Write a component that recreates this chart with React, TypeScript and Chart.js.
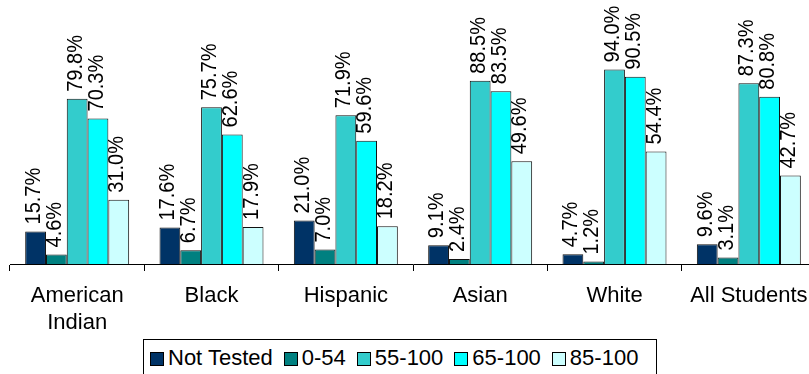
import React, { useEffect, useRef } from "react";
import { Chart, registerables } from "chart.js";

Chart.register(...registerables);

const categories: (string | string[])[] = [
  ["American", "Indian"],
  "Black",
  "Hispanic",
  "Asian",
  "White",
  "All Students",
];

const seriesNames = ["Not Tested", "0-54", "55-100", "65-100", "85-100"];
const seriesColors = ["#003366", "#008080", "#33CCCC", "#00FFFF", "#CCFFFF"];

const notTested = [15.7, 17.6, 21.0, 9.1, 4.7, 9.6];
const range0to54 = [4.6, 6.7, 7.0, 2.4, 1.2, 3.1];
const range55to100 = [79.8, 75.7, 71.9, 88.5, 94.0, 87.3];
const range65to100 = [70.3, 62.6, 59.6, 83.5, 90.5, 80.8];
const range85to100 = [31.0, 17.9, 18.2, 49.6, 54.4, 42.7];

const seriesValues = [notTested, range0to54, range55to100, range65to100, range85to100];

const FONT = "'Liberation Sans', Arial, sans-serif";

const labelPlugin = {
  id: "barLabels",
  afterDatasetsDraw(chart: any) {
    const ctx = chart.ctx;
    ctx.save();
    ctx.fillStyle = "#000";
    ctx.font = `22px ${FONT}`;
    ctx.textAlign = "left";
    ctx.textBaseline = "middle";
    chart.data.datasets.forEach((ds: any, di: number) => {
      const meta = chart.getDatasetMeta(di);
      meta.data.forEach((el: any, i: number) => {
        const v = ds.data[i];
        ctx.save();
        ctx.translate(el.x - 1.5, el.y - 7);
        ctx.rotate(-Math.PI / 2);
        ctx.scale(0.91, 1);
        ctx.fillText(v.toFixed(1) + "%", 0, 0);
        ctx.restore();
      });
    });
    ctx.restore();
  },
};

export default function App() {
  const canvasRef = useRef<HTMLCanvasElement | null>(null);

  useEffect(() => {
    if (!canvasRef.current) return;
    const chart = new Chart(canvasRef.current, {
      type: "bar",
      data: {
        labels: categories,
        datasets: seriesNames.map((name, i) => ({
          label: name,
          data: seriesValues[i],
          backgroundColor: seriesColors[i],
          borderColor: "#111",
          borderWidth: 1,
          categoryPercentage: 0.774,
          barPercentage: 1,
        })),
      },
      options: {
        responsive: false,
        animation: false,
        layout: { padding: { left: 10, right: 14, top: 57, bottom: 0 } },
        plugins: {
          legend: { display: false },
          tooltip: { enabled: false },
        },
        scales: {
          x: {
            offset: true,
            grid: {
              display: true,
              offset: true,
              drawOnChartArea: false,
              drawTicks: true,
              tickLength: 7,
              color: "#000",
            },
            border: { display: true, color: "#000", width: 1 },
            ticks: {
              color: "#000",
              font: { family: FONT, size: 22, lineHeight: 1.21 },
              padding: 12,
              maxRotation: 0,
              autoSkip: false,
            },
            afterFit: (scale: any) => {
              scale.height = 110;
            },
          },
          y: {
            display: false,
            min: 0,
            max: 100,
          },
        },
      },
      plugins: [labelPlugin],
    });
    return () => chart.destroy();
  }, []);

  return (
    <div
      style={{
        position: "fixed",
        left: 0,
        top: 0,
        width: 809,
        height: 374,
        overflow: "hidden",
        background: "#fff",
      }}
    >
      <canvas
        ref={canvasRef}
        width={830}
        height={374}
        style={{ display: "block", position: "absolute", left: 0, top: 0 }}
      />
      <div
        style={{
          position: "absolute",
          left: 143,
          top: 339,
          width: 514,
          height: 60,
          border: "1px solid #000",
          boxSizing: "border-box",
          paddingLeft: 6,
          paddingTop: 7,
          display: "flex",
          alignItems: "flex-start",
          fontFamily: FONT,
          fontSize: 22,
          lineHeight: "22px",
          color: "#000",
          whiteSpace: "nowrap",
          background: "#fff",
        }}
      >
        {seriesNames.map((name, i) => (
          <div key={name} style={{ display: "flex", alignItems: "flex-start", marginRight: 11 }}>
            <span
              style={{
                display: "inline-block",
                width: 12,
                height: 12,
                marginTop: 5,
                marginRight: 4,
                border: "1px solid #000",
                background: seriesColors[i],
              }}
            />
            <span>{name}</span>
          </div>
        ))}
      </div>
    </div>
  );
}
